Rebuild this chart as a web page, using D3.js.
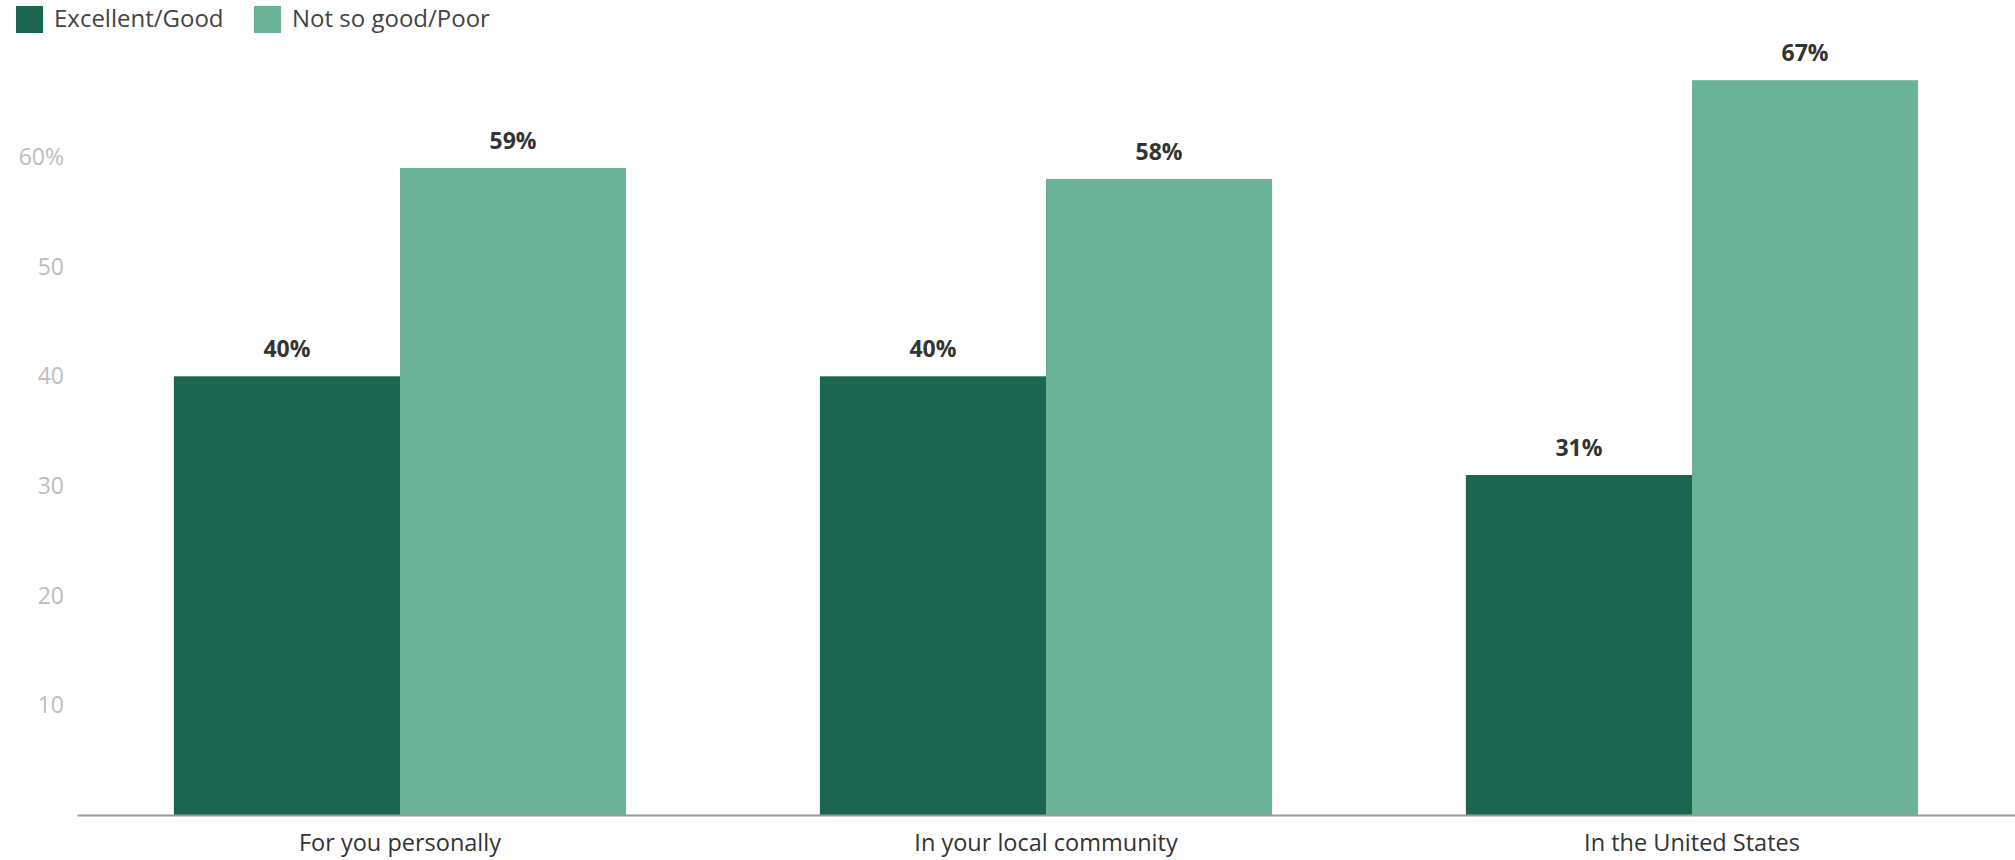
<!DOCTYPE html>
<html><head><meta charset="utf-8">
<script src="https://cdn.jsdelivr.net/npm/d3@7"></script>
<style>body{margin:0;background:#fff;}svg{display:block;font-family:"Open Sans",sans-serif;}</style>
</head><body><svg id="c" width="2015" height="860"></svg>
<script>
const categories = ["For you personally", "In your local community", "In the United States"];
const seriesNames = ["Excellent/Good", "Not so good/Poor"];
const excellentGood = [40, 40, 31];
const notSoGoodPoor = [59, 58, 67];
const tickValues = [10, 20, 30, 40, 50, 60];
const colors = ["#1b6650", "#6bb396"];

const svg = d3.select("#c");
const x0 = d3.scaleBand().domain(categories).range([77, 2015]).paddingInner(0.3).paddingOuter(0.15);
const x1 = d3.scaleBand().domain(seriesNames).range([0, x0.bandwidth()]).padding(0);
const y = d3.scaleLinear().domain([0, 70]).range([815, 815 - 70 * 10.967]);

const data = categories.map((c, i) => ({cat: c, vals: [excellentGood[i], notSoGoodPoor[i]]}));

// y axis labels
const yAxis = d3.axisLeft(y).tickValues(tickValues).tickSize(0).tickPadding(0)
  .tickFormat(d => d === 60 ? "60%" : d);
const ya = svg.append("g").attr("transform", "translate(64,0)").call(yAxis);
ya.select(".domain").remove();
ya.selectAll("text").attr("fill", "#bdbdbd").style("font-size", "23px").style("font-family", "'Open Sans',sans-serif");

// bars
const g = svg.append("g");
const groups = g.selectAll("g.grp").data(data).join("g").attr("class", "grp")
  .attr("transform", d => `translate(${x0(d.cat)},0)`);
groups.selectAll("rect").data(d => d.vals.map((v, j) => ({v, s: seriesNames[j], j})))
  .join("rect")
  .attr("x", d => x1(d.s)).attr("width", x1.bandwidth())
  .attr("y", d => y(d.v)).attr("height", d => y(0) - y(d.v))
  .attr("fill", d => colors[d.j]);
groups.selectAll("text.val").data(d => d.vals.map((v, j) => ({v, s: seriesNames[j], j})))
  .join("text").attr("class", "val")
  .attr("x", d => x1(d.s) + x1.bandwidth() / 2).attr("y", d => y(d.v) - 19)
  .attr("text-anchor", "middle").attr("fill", "#333").style("font-weight", "700").style("font-size", "23px")
  .text(d => d.v + "%");

// x axis
const xAxis = d3.axisBottom(x0).tickSize(0).tickPadding(19);
const xa = svg.append("g").attr("transform", `translate(0,${y(0)})`).call(xAxis);
xa.select(".domain").attr("stroke", "#9a9a9a").attr("stroke-width", 2);
xa.selectAll("text").attr("fill", "#333").style("font-size", "23.5px").style("font-family", "'Open Sans',sans-serif");

// legend
const leg = svg.append("g");
const legX = [16, 254];
seriesNames.forEach((s, i) => {
  leg.append("rect").attr("x", legX[i]).attr("y", 6).attr("width", 27).attr("height", 27).attr("fill", colors[i]);
  leg.append("text").attr("x", legX[i] + 38).attr("y", 19).attr("dy", "0.35em")
    .attr("fill", "#444").style("font-size", "24px").text(s);
});
</script></body></html>
